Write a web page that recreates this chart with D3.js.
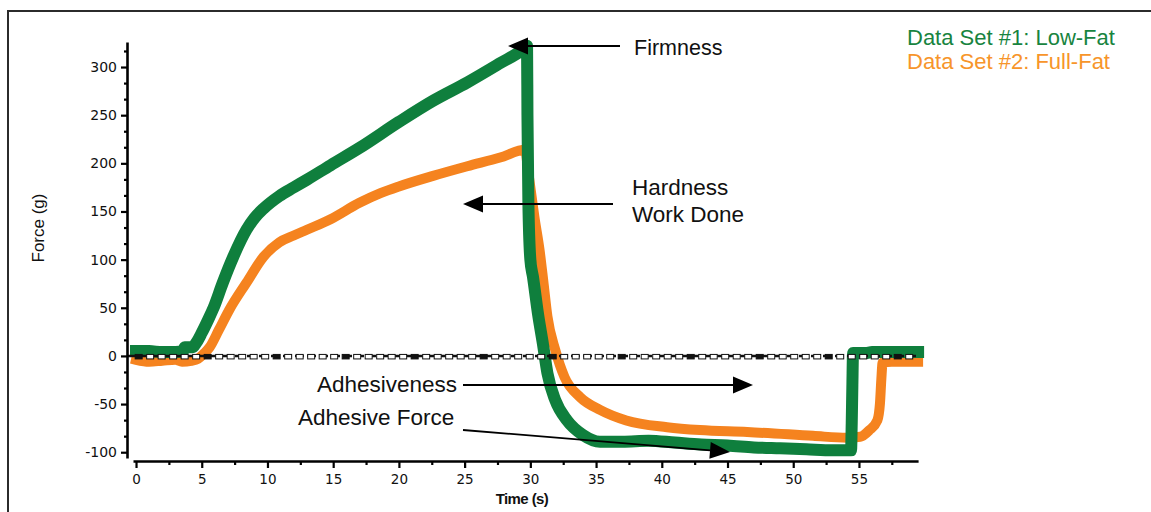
<!DOCTYPE html>
<html>
<head>
<meta charset="utf-8">
<script src="https://cdn.jsdelivr.net/npm/d3@7"></script>
<style>
  html, body { margin: 0; padding: 0; background: #fff; }
  svg { display: block; font-family: "Liberation Sans", Arial, sans-serif; }
</style>
</head>
<body>
<svg id="chart" width="1151" height="512"></svg>
<script>
// ---- data (time in s, force in g) ----
const lowFatTime = [0, 1, 2, 3, 3.6, 3.7, 4.3, 4.6, 5.0, 5.5, 5.9, 6.6, 7.4, 8.4, 9.0, 9.7, 10.9, 12, 13, 14.8, 17, 20, 22.6, 25.2, 27.7, 29.4, 29.75, 29.78, 29.85, 30.0, 30.2, 30.6, 30.95, 31.3, 31.9, 32.8, 34, 35.3, 37, 39, 41, 43, 45, 47, 49, 51, 53, 54.4, 54.45, 54.5, 54.55, 55.5, 56, 59.5];
const lowFatForce = [5, 5, 4, 4, 5, 9, 9, 14, 24, 38, 50, 76, 103, 131, 143, 153, 166, 175, 183, 198, 216, 243, 265, 284, 304, 318, 322, 250, 160, 100, 82, 42, 13, -18, -46, -67, -82, -89, -89, -88, -90, -92, -93, -95, -96, -97, -98, -98, -70, -30, 3, 3, 4, 4];

const fullFatTime = [0, 1, 2, 3, 3.5, 4.2, 4.7, 5.2, 5.6, 6.3, 7.1, 8.4, 9.7, 10.9, 12, 13, 14.8, 17, 18.6, 20, 22.6, 25.2, 27.7, 29.6, 29.85, 30.1, 30.3, 30.7, 31, 31.3, 31.9, 32.6, 33.8, 35.3, 37.3, 40.4, 42.9, 46.5, 51.5, 54.1, 55.1, 55.8, 56.4, 56.6, 56.7, 56.8, 57.5, 59.5];
const fullFatForce = [-4, -6, -5, -4, -6, -5, -3, 3, 9, 27, 48, 76, 103, 118, 125, 131, 142, 159, 169, 176, 187, 197, 206, 214, 190, 165, 145, 110, 76, 41, 6, -22, -43, -56, -67, -74, -77, -79, -83, -85, -84, -77, -67, -49, -25, -7, -6, -6];

const xMajorTicks = [0, 5, 10, 15, 20, 25, 30, 35, 40, 45, 50, 55];
const xMinorTicks = [2.5, 7.5, 12.5, 17.5, 22.5, 27.5, 32.5, 37.5, 42.5, 47.5, 52.5, 57.5];
const yMajorTicks = [-100, -50, 0, 50, 100, 150, 200, 250, 300];
const yMinorTicks = [-83.33, -66.67, -33.33, -16.67, 16.67, 33.33, 66.67, 83.33, 116.67, 133.33, 166.67, 183.33, 216.67, 233.33, 266.67, 283.33, 316.67];

const seriesNames = ["Data Set #1: Low-Fat", "Data Set #2: Full-Fat"];

// ---- layout ----
const GREEN = "#0f7f3d", ORANGE = "#f5831f";
const LEG_GREEN = "#18843f", LEG_ORANGE = "#f7952a";
const TICK_FONT = "DejaVu Sans, Verdana, sans-serif";

const svg = d3.select("#chart");

// frame
svg.append("rect").attr("x", 8).attr("y", 11).attr("width", 1160).attr("height", 520)
  .attr("fill", "none").attr("stroke", "#2b2b2b").attr("stroke-width", 2);

const x = d3.scaleLinear().domain([-0.23, 59.5]).range([133, 918.1]);
const y = d3.scaleLinear().domain([-106, 326]).range([458, 42]);

// series
const line = d3.line().x(d => x(d[0])).y(d => y(d[1])).curve(d3.curveMonotoneX);
const fullFat = fullFatTime.map((t, i) => [t, fullFatForce[i]]);
const lowFat = lowFatTime.map((t, i) => [t, lowFatForce[i]]);

svg.append("path").datum(fullFat).attr("d", line)
  .attr("fill", "none").attr("stroke", ORANGE).attr("stroke-width", 10)
  .attr("stroke-linejoin", "round").attr("stroke-linecap", "square");
svg.append("path").datum(lowFat).attr("d", line)
  .attr("fill", "none").attr("stroke", GREEN).attr("stroke-width", 12)
  .attr("stroke-linejoin", "round").attr("stroke-linecap", "square");

// zero reference line (dashed with small open markers)
const zeroMarks = d3.range(0, 68).map(i => 0.2 + i * 0.875);
svg.append("line").attr("x1", 127).attr("x2", x(59.5))
  .attr("y1", y(0)).attr("y2", y(0))
  .attr("stroke", "#111").attr("stroke-width", 2.5).attr("stroke-dasharray", "9,3");
svg.append("g").selectAll("rect").data(zeroMarks).join("rect")
  .attr("x", d => x(d) - 3.5).attr("y", y(0) - 1.5)
  .attr("width", 7).attr("height", 4.5)
  .attr("fill", (d, i) => i % 6 === 0 ? "#111" : "#fff")
  .attr("stroke", "#111").attr("stroke-width", 1);

// axes
const fmt = d => String(d);
const yAxis = d3.axisLeft(y).tickValues(yMajorTicks).tickFormat(fmt).tickSize(6).tickSizeOuter(0).tickPadding(4);
const yg = svg.append("g").attr("transform", "translate(127,0)").call(yAxis);
yg.select(".domain").attr("stroke", "#000").attr("stroke-width", 2.6);
yg.selectAll(".tick line").attr("stroke", "#000").attr("stroke-width", 2.2);
yg.selectAll(".tick text").attr("font-size", 14).attr("fill", "#111").attr("font-family", TICK_FONT);
const yMinor = d3.axisLeft(y).tickValues(yMinorTicks).tickSize(3).tickSizeOuter(0).tickFormat("");
const ym = svg.append("g").attr("transform", "translate(127,0)").call(yMinor);
ym.select(".domain").remove();
ym.selectAll(".tick line").attr("stroke", "#000").attr("stroke-width", 2.2);

const xAxis = d3.axisBottom(x).tickValues(xMajorTicks).tickFormat(fmt).tickSize(7).tickSizeOuter(0).tickPadding(6);
const xg = svg.append("g").attr("transform", "translate(0,461)").call(xAxis);
xg.select(".domain").attr("stroke", "#000").attr("stroke-width", 2.6);
xg.selectAll(".tick line").attr("stroke", "#000").attr("stroke-width", 2.2);
xg.selectAll(".tick text").attr("font-size", 13.5).attr("fill", "#111").attr("font-family", TICK_FONT);
const xMinor = d3.axisBottom(x).tickValues(xMinorTicks).tickSize(4).tickSizeOuter(0).tickFormat("");
const xm = svg.append("g").attr("transform", "translate(0,461)").call(xMinor);
xm.select(".domain").remove();
xm.selectAll(".tick line").attr("stroke", "#000").attr("stroke-width", 2.2);

// axis titles
svg.append("text").attr("transform", "translate(44,228) rotate(-90)")
  .attr("text-anchor", "middle").attr("font-size", 17).attr("fill", "#111").text("Force (g)");
svg.append("text").attr("x", 522).attr("y", 504).attr("text-anchor", "middle")
  .attr("font-size", 15).attr("font-weight", "bold").attr("letter-spacing", -0.6)
  .attr("fill", "#111").text("Time (s)");

// annotations
function arrow(x0, y0, tx, ty) {
  const L = 20, W = 8.5;
  const dx = tx - x0, dy = ty - y0, len = Math.hypot(dx, dy);
  const ux = dx / len, uy = dy / len;
  const bx = tx - ux * L, by = ty - uy * L;
  svg.append("line").attr("x1", x0).attr("y1", y0).attr("x2", bx).attr("y2", by)
    .attr("stroke", "#000").attr("stroke-width", 1.8);
  svg.append("path")
    .attr("d", `M${tx},${ty}L${bx - uy * W},${by + ux * W}L${bx + uy * W},${by - ux * W}Z`)
    .attr("fill", "#000");
}
arrow(620, 46, 508, 46);
arrow(613, 204, 463, 204);
arrow(463, 385, 753, 385);
arrow(463, 430, 730, 452);

const annoFont = 22.5;
svg.append("text").attr("x", 634).attr("y", 55).attr("font-size", 21.5).attr("fill", "#111").text("Firmness");
svg.append("text").attr("x", 632).attr("y", 195).attr("font-size", annoFont).attr("fill", "#111").text("Hardness");
svg.append("text").attr("x", 632).attr("y", 222).attr("font-size", annoFont).attr("fill", "#111").text("Work Done");
svg.append("text").attr("x", 317).attr("y", 392).attr("font-size", annoFont).attr("fill", "#111").text("Adhesiveness");
svg.append("text").attr("x", 298).attr("y", 425).attr("font-size", annoFont).attr("fill", "#111").text("Adhesive Force");

// legend
svg.append("text").attr("x", 907).attr("y", 45).attr("font-size", 22).attr("fill", LEG_GREEN).text(seriesNames[0]);
svg.append("text").attr("x", 907).attr("y", 69).attr("font-size", 22).attr("fill", LEG_ORANGE).text(seriesNames[1]);
</script>
</body>
</html>
